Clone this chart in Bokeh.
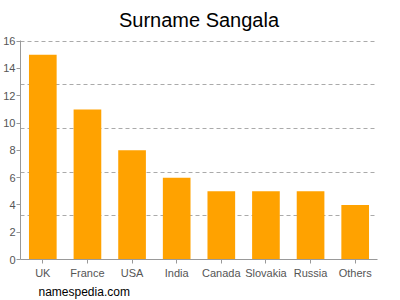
from bokeh.plotting import figure
from bokeh.models import FixedTicker, Range1d, Title, ColumnDataSource
from bokeh.embed import file_html
from bokeh.resources import INLINE

categories = ["UK", "France", "USA", "India", "Canada", "Slovakia", "Russia", "Others"]
counts = [15, 11, 8, 6, 5, 5, 5, 4]
y_ticks = [0, 2, 4, 6, 8, 10, 12, 14, 16]
grid_ticks = [3.2, 6.4, 9.6, 12.8, 16]

src = ColumnDataSource(dict(cat=categories, val=counts))

p = figure(width=400, height=300, x_range=categories, y_range=Range1d(0, 16.05),
           output_backend="svg", toolbar_location=None,
           min_border_left=17, min_border_right=23, min_border_top=40, min_border_bottom=39)
p.outline_line_color = None
p.background_fill_color = "white"

p.vbar(x="cat", top="val", width=0.62, source=src, color="#FFA200", line_color=None)

p.title.text = "Surname Sangala"
p.title.align = "center"
p.title.vertical_align = "top"
p.title.text_font = "Liberation Sans"
p.title.text_font_size = "20px"
p.title.text_font_style = "normal"
p.title.text_color = "#000000"
p.title.standoff = 16

p.x_range.range_padding = 0
p.xgrid.grid_line_color = None
p.ygrid.ticker = FixedTicker(ticks=grid_ticks)
p.ygrid.grid_line_color = "#aaaaaa"
p.ygrid.grid_line_dash = "4 3"
p.ygrid.grid_line_width = 1

p.yaxis.ticker = FixedTicker(ticks=y_ticks)
p.yaxis.minor_tick_line_color = None
p.yaxis.major_tick_out = 4
p.yaxis.major_tick_in = 0
p.yaxis.major_label_standoff = 1
p.xaxis.major_tick_out = 4
p.xaxis.major_tick_in = 0
p.xaxis.major_label_standoff = 3
for ax in (p.xaxis, p.yaxis):
    ax.axis_line_color = "#999999"
    ax.major_tick_line_color = "#999999"
    ax.major_label_text_color = "#555555"
    ax.major_label_text_font = "Liberation Sans"
    ax.major_label_text_font_size = "11px"

wm = Title(text="namespedia.com", align="left", offset=18, standoff=3,
           text_font="Liberation Sans", text_font_size="12px", text_font_style="normal",
           text_color="#000000")
p.add_layout(wm, "below")

open("out.html", "w").write(file_html(p, INLINE))
